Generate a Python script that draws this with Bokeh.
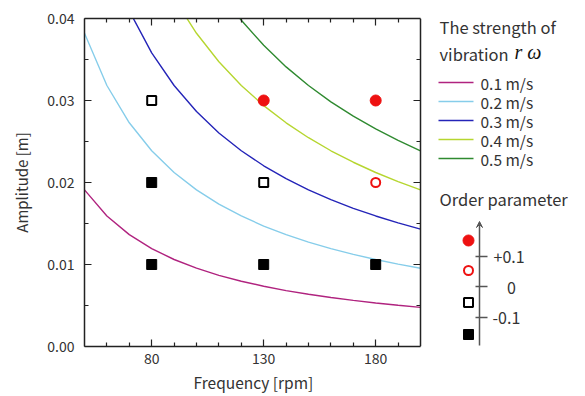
from bokeh.plotting import figure
from bokeh.models import (Range1d, LinearAxis, FixedTicker, NumeralTickFormatter, Arrow, VeeHead,
                          Title)
from bokeh.embed import file_html
from bokeh.resources import INLINE
from bokeh.core.properties import value

# ---------------- data ----------------
freq = [50, 60, 70, 80, 90, 100, 110, 120, 130, 140, 150, 160, 170, 180, 190, 200]
amp_01 = [0.01910, 0.01592, 0.01364, 0.01194, 0.01061, 0.00955, 0.00868, 0.00796,
          0.00735, 0.00682, 0.00637, 0.00597, 0.00562, 0.00531, 0.00503, 0.00477]
amp_02 = [0.03820, 0.03183, 0.02728, 0.02387, 0.02122, 0.01910, 0.01736, 0.01592,
          0.01469, 0.01364, 0.01273, 0.01194, 0.01123, 0.01061, 0.01005, 0.00955]
amp_03 = [0.05730, 0.04775, 0.04093, 0.03581, 0.03183, 0.02865, 0.02604, 0.02387,
          0.02204, 0.02046, 0.01910, 0.01790, 0.01685, 0.01592, 0.01508, 0.01432]
amp_04 = [0.07639, 0.06366, 0.05457, 0.04775, 0.04244, 0.03820, 0.03472, 0.03183,
          0.02938, 0.02728, 0.02546, 0.02387, 0.02247, 0.02122, 0.02010, 0.01910]
amp_05 = [0.09549, 0.07958, 0.06821, 0.05968, 0.05305, 0.04775, 0.04341, 0.03979,
          0.03673, 0.03410, 0.03183, 0.02984, 0.02809, 0.02653, 0.02513, 0.02387]
speed_labels = ["0.1 m/s", "0.2 m/s", "0.3 m/s", "0.4 m/s", "0.5 m/s"]
speed_colors = ["#b0237f", "#86cdea", "#2424b8", "#b6d630", "#2f8a30"]

# order parameter measurements
fsq_f, fsq_a = [80, 80, 130, 180], [0.01, 0.02, 0.01, 0.01]     # filled square (< -0.1)
osq_f, osq_a = [80, 130], [0.03, 0.02]                           # open square (-0.1..0)
ocir_f, ocir_a = [180], [0.02]                                   # open circle (0..+0.1)
fcir_f, fcir_a = [130, 180], [0.03, 0.03]                        # filled circle (> +0.1)

x_major = [80, 130, 180]
x_minor = [60, 70, 90, 100, 110, 120, 140, 150, 160, 170, 190]
y_major = [0.0, 0.01, 0.02, 0.03, 0.04]
y_minor = [0.005, 0.015, 0.025, 0.035]

order_ticks = ["+0.1", "0", "-0.1"]

FONT = "Noto Sans CJK JP"
TXT = "#333333"
AX = "#222222"
RED = "#ee1111"
GR = "#555555"

X0, X1, Y0, Y1 = 50, 200, 0.0, 0.04
# layout (window pixels): plot box 84..420 x 18..346, frame extended right for the key
FL, FR, FT, FB, FRX = 84, 420, 18, 346, 575
W, H = 580, 396
PX = (X1 - X0) / (FR - FL)        # data units per pixel (x)
PY = (Y1 - Y0) / (FB - FT)        # data units per pixel (y)

p = figure(width=W, height=H,
           x_range=Range1d(X0, X0 + (FRX - FL) * PX), y_range=Range1d(Y0, Y1),
           output_backend="svg", toolbar_location=None,
           min_border_left=FL, min_border_right=W - FRX, min_border_top=FT,
           min_border_bottom=H - FB)
p.grid.visible = False
p.outline_line_color = None


def dx(wx):
    return X0 + (wx - FL) * PX


def dy(wy):
    return Y0 + (FB - wy) * PY


amps = [amp_01, amp_02, amp_03, amp_04, amp_05]
for a, c in zip(amps, speed_colors):
    p.line(freq, a, line_color=c, line_width=1.4)

p.scatter(fsq_f, fsq_a, marker="square", size=10, fill_color="black", line_color="black")
p.scatter(osq_f, osq_a, marker="square", size=9, fill_color="white", line_color="black", line_width=2)
p.scatter(fcir_f, fcir_a, marker="circle", size=11, fill_color=RED, line_color=RED)
p.scatter(ocir_f, ocir_a, marker="circle", size=9, fill_color="white", line_color=RED, line_width=2)


def style_axis(ax, major, minor, labels=True):
    ax.ticker = FixedTicker(ticks=major, minor_ticks=minor)
    ax.axis_line_color = AX
    ax.axis_line_width = 1.5
    ax.major_tick_line_color = AX
    ax.minor_tick_line_color = AX
    ax.major_tick_line_width = 1.2
    ax.minor_tick_line_width = 1.2
    ax.major_tick_in = 7
    ax.major_tick_out = 0
    ax.minor_tick_in = 4
    ax.minor_tick_out = 0
    ax.major_label_text_font = FONT
    ax.major_label_text_font_size = "14px"
    ax.major_label_text_color = TXT
    ax.axis_label_text_font = FONT
    ax.axis_label_text_font_size = "15px"
    ax.axis_label_text_font_style = "normal"
    ax.axis_label_text_color = TXT
    if not labels:
        ax.major_label_text_font_size = "0px"
        ax.major_label_text_alpha = 0


xa = p.xaxis[0]
style_axis(xa, x_major, x_minor)
xa.bounds = (X0, X1)
xa.major_label_standoff = 6

ya = p.yaxis[0]
style_axis(ya, y_major, y_minor)
ya.formatter = NumeralTickFormatter(format="0.00")
ya.axis_label = "Amplitude [m]"
ya.major_label_standoff = 10
ya.axis_label_standoff = 12

# x-axis title centred under the plot box (not the extended frame)
xt = Title(text="Frequency [rpm]", align="left", offset=(FR + FL) / 2 - FL - 59,
           text_font=FONT, text_font_size="15.5px", text_font_style="normal",
           text_color=TXT, standoff=4)
p.add_layout(xt, "below")

top = LinearAxis()
style_axis(top, x_major, x_minor, labels=False)
top.bounds = (X0, X1)
p.add_layout(top, "above")

# right border of the plot box, with inward ticks
p.segment(x0=[X1], y0=[Y0], x1=[X1], y1=[Y1], line_color=AX, line_width=1.5)
p.segment(x0=[X1] * len(y_major), y0=y_major, x1=[X1 - 7 * PX] * len(y_major), y1=y_major,
          line_color=AX, line_width=1.2)
p.segment(x0=[X1] * len(y_minor), y0=y_minor, x1=[X1 - 4 * PX] * len(y_minor), y1=y_minor,
          line_color=AX, line_width=1.2)


# ---------------- key ----------------
def text(wx, wy, t, size="16.5px", font=FONT, style="normal", align="left", color=TXT):
    p.text([dx(wx)], [dy(wy)], text=[t], text_font=value(font), text_font_size=size,
           text_font_style=style, text_color=color, text_baseline="middle", text_align=align)


text(439, 26, "The strength of")
text(439, 53, "vibration")
text(514, 51, "r ω", size="20px", font="Liberation Serif", style="italic", color="#111111")

ly0, ldy = 82, 19
for i, (lab, c) in enumerate(zip(speed_labels, speed_colors)):
    yy = ly0 + i * ldy
    p.line([dx(438), dx(473)], [dy(yy), dy(yy)], line_color=c, line_width=1.4)
    text(480, yy, lab, size="15.5px")

text(439, 198, "Order parameter")

ax_x = 479
p.add_layout(Arrow(x_start=dx(ax_x), y_start=dy(345), x_end=dx(ax_x), y_end=dy(221),
                   line_color=GR, line_width=1.5,
                   end=VeeHead(size=6, line_color=GR, fill_color=GR, line_width=1)))
tick_y = [256, 286, 317]
p.segment(x0=[dx(475)] * 3, y0=[dy(t) for t in tick_y], x1=[dx(487)] * 3,
          y1=[dy(t) for t in tick_y], line_color=GR, line_width=1.5)
text(493, 256, order_ticks[0], size="16px")
text(511, 287, order_ticks[1], size="16px", align="center")
text(492, 317, order_ticks[2], size="16px")

mx = dx(468)
p.scatter([mx], [dy(240)], marker="circle", size=11, fill_color=RED, line_color=RED)
p.scatter([mx], [dy(270)], marker="circle", size=9, fill_color="white", line_color=RED, line_width=2)
p.scatter([mx], [dy(302)], marker="square", size=9, fill_color="white", line_color="black", line_width=2)
p.scatter([mx], [dy(334)], marker="square", size=10, fill_color="black", line_color="black")

open("out.html", "w").write(file_html(p, INLINE))
